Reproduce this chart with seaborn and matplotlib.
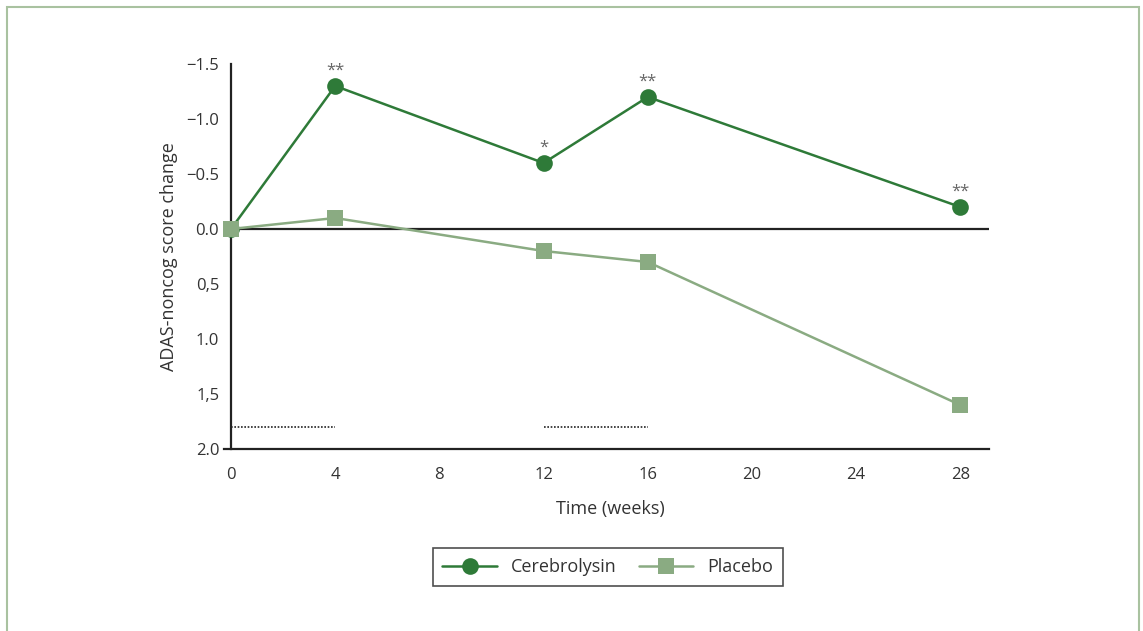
import matplotlib.pyplot as plt
import seaborn as sns
import pandas as pd
from matplotlib.patches import Rectangle

weeks = [0, 4, 12, 16, 28]
cerebrolysin = [0.0, -1.3, -0.6, -1.2, -0.2]
placebo = [0.0, -0.1, 0.2, 0.3, 1.6]
stars = ['', '**', '*', '**', '**']
y_ticks = [-1.5, -1.0, -0.5, 0.0, 0.5, 1.0, 1.5, 2.0]
y_labels = ['\u22121.5', '\u22121.0', '\u22120.5', '0.0', '0,5', '1.0', '1,5', '2.0']
x_ticks = [0, 4, 8, 12, 16, 20, 24, 28]
periods = [(0, 4), (12, 16)]

dark = '#2e7a38'
light = '#8aab82'
txt = '#333333'

sns.set_style('white')
plt.rcParams['font.family'] = ['Open Sans', 'DejaVu Sans']

df = pd.DataFrame({'week': weeks * 2,
                   'score': cerebrolysin + placebo,
                   'group': ['Cerebrolysin'] * 5 + ['Placebo'] * 5})

fig = plt.figure(figsize=(11.43, 6.31), dpi=100)
ax = fig.add_axes([0.2021, 0.2884, 0.6632, 0.6102])

fig.patches.append(Rectangle((7 / 1143, -0.1), 1132 / 1143, 1.1 - 7 / 631,
                             transform=fig.transFigure, fill=False,
                             edgecolor='#a9c2a0', linewidth=1.5))

ax.axhline(0, color='#222222', lw=1.6, zorder=1)
for a, b in periods:
    ax.plot([a, b], [1.8, 1.8], color='#222222', lw=1.2, ls=(0, (1, 1)))

sns.lineplot(data=df, x='week', y='score', hue='group', style='group',
             palette={'Cerebrolysin': dark, 'Placebo': light},
             markers={'Cerebrolysin': 'o', 'Placebo': 's'},
             dashes=False, markersize=12, markeredgewidth=0, lw=1.8,
             ax=ax)
# placebo square sits on top at week 0, markers not clipped at the axis
for ln in ax.lines:
    if ln.get_marker() == 's':
        ln.set_zorder(4)
        ln.set_clip_on(False)
    elif ln.get_marker() == 'o':
        ln.set_zorder(3)
        ln.set_clip_on(False)

for x, y, s in zip(weeks, cerebrolysin, stars):
    if s:
        ax.text(x, y - 0.07, s, ha='center', va='bottom', fontsize=12,
                color='#666666')

ax.set_xlim(0, 29.1)
ax.set_ylim(2.0, -1.5)
ax.set_xticks(x_ticks)
ax.set_yticks(y_ticks)
ax.set_yticklabels(y_labels)
ax.tick_params(axis='both', labelsize=12, colors=txt, length=5, width=1.2,
               direction='out', labelcolor=txt)
ax.tick_params(axis='x', pad=8)
for sp in ['top', 'right']:
    ax.spines[sp].set_visible(False)
for sp in ['left', 'bottom']:
    ax.spines[sp].set_color('#222222')
    ax.spines[sp].set_linewidth(1.6)
ax.spines['bottom'].set_bounds(-0.25, 29.1)

ax.set_xlabel('Time (weeks)', fontsize=13, color=txt, labelpad=12)
ax.set_ylabel('ADAS-noncog score change', fontsize=13, color=txt, labelpad=6)

leg = ax.legend(loc='upper center', bbox_to_anchor=(0.497, -0.234), ncol=2,
                frameon=True, fancybox=False, edgecolor='#222222',
                fontsize=13, handlelength=3.0, columnspacing=1.2,
                borderpad=0.55, handletextpad=0.8)
leg.get_frame().set_linewidth(1.2)
for t in leg.get_texts():
    t.set_color(txt)

fig.savefig('out.png', dpi=100)
